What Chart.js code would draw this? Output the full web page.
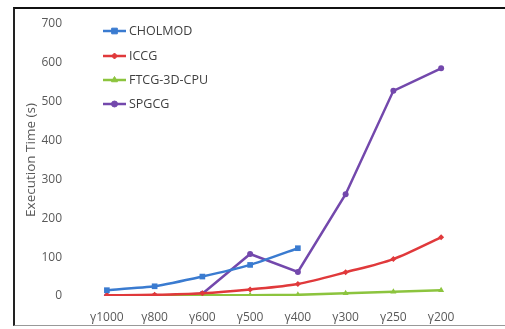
<!DOCTYPE html>
<html>
<head>
<meta charset="utf-8">
<script src="https://cdn.jsdelivr.net/npm/chart.js@4"></script>
<style>
  html, body { margin: 0; padding: 0; background: #fff; }
  #wrap { position: relative; width: 505px; height: 329px; }
  #frame {
    position: absolute; left: 13px; top: 7px; width: 492px; height: 319px;
    border-top: 2px solid #111; border-left: 2px solid #222; border-bottom: 1px solid #999;
    box-sizing: border-box; pointer-events: none;
  }
  canvas { position: absolute; left: 0; top: 0; }
</style>
</head>
<body>
<div id="wrap">
  <canvas id="grafico" width="505" height="329"></canvas>
  <div id="frame"></div>
</div>
<script>
// ===== dados =====
const categorias = ["γ1000", "γ800", "γ600", "γ500", "γ400", "γ300", "γ250", "γ200"];
const cholmod = [15, 25, 50, 80, 123, null, null, null];
const iccg = [2, 3, 7, 17, 31, 61, 95, 151];
const ftcg = [0, 1, 2, 2, 3, 7, 11, 15];
const spgcg = [0, 0, 6, 108, 62, 262, 528, 586];
const ticksY = [0, 100, 200, 300, 400, 500, 600, 700];

const fonte = "'Open Sans', sans-serif";

// legenda desenhada dentro da área do gráfico
const legendaInterna = {
    id: "legendaInterna",
    afterDraw(chart) {
        const ctx = chart.ctx;
        const x0 = 103, x1 = 126;
        const ys = [31, 56, 80, 104];
        chart.data.datasets.forEach((ds, i) => {
            const y = ys[i];
            ctx.save();
            ctx.strokeStyle = ds.borderColor;
            ctx.fillStyle = ds.borderColor;
            ctx.lineWidth = 2.5;
            ctx.beginPath();
            ctx.moveTo(x0, y);
            ctx.lineTo(x1, y);
            ctx.stroke();
            ctx.lineWidth = 1;
            Chart.helpers.drawPoint(ctx, {
                pointStyle: ds.pointStyle,
                radius: ds.pointRadius,
                rotation: 0,
                borderWidth: 1
            }, (x0 + x1) / 2, y);
            ctx.fillStyle = "#404040";
            ctx.font = "12.5px " + fonte;
            ctx.textBaseline = "middle";
            ctx.fillText(ds.label, x1 + 3, y);
            ctx.restore();
        });
    }
};

function serie(label, dados, cor, estilo, raio, tensao) {
    return {
        label: label,
        data: dados,
        borderColor: cor,
        backgroundColor: cor,
        pointBackgroundColor: cor,
        pointBorderColor: cor,
        pointBorderWidth: 0,
        pointStyle: estilo,
        pointRadius: raio,
        borderWidth: 2.5,
        tension: tensao,
        spanGaps: false
    };
}

document.addEventListener("DOMContentLoaded", () => {
    const canvas = document.getElementById("grafico");

    new Chart(canvas, {
        type: "line",
        data: {
            labels: categorias,
            datasets: [
                serie("CHOLMOD", cholmod, "#3a7bd0", "rect", 4, 0.15),
                serie("ICCG", iccg, "#e0393b", "rectRot", 3, 0.3),
                serie("FTCG-3D-CPU", ftcg, "#8cc43e", "triangle", 3.5, 0),
                serie("SPGCG", spgcg, "#7348ac", "circle", 3, 0)
            ]
        },
        options: {
            responsive: false,
            animation: false,
            layout: { padding: { left: 0, right: 40, top: 24, bottom: 0 } },
            plugins: {
                legend: { display: false },
                tooltip: { enabled: false }
            },
            scales: {
                x: {
                    offset: true,
                    afterFit: (scale) => { scale.height = 33; },
                    grid: { display: false },
                    border: { display: false },
                    ticks: { color: "#595959", font: { family: fonte, size: 12 }, padding: 6, maxRotation: 0 }
                },
                y: {
                    min: 0,
                    max: 700,
                    afterBuildTicks: (scale) => { scale.ticks = ticksY.map(v => ({ value: v })); },
                    afterFit: (scale) => { scale.width = 83; },
                    grid: { display: false },
                    border: { display: false },
                    ticks: { color: "#595959", font: { family: fonte, size: 12 }, padding: 13 },
                    title: {
                        display: true,
                        text: "Execution Time (s)",
                        color: "#595959",
                        font: { family: fonte, size: 13.5 },
                        padding: { top: 23, bottom: 0 }
                    }
                }
            }
        },
        plugins: [legendaInterna]
    });
});
</script>
</body>
</html>
